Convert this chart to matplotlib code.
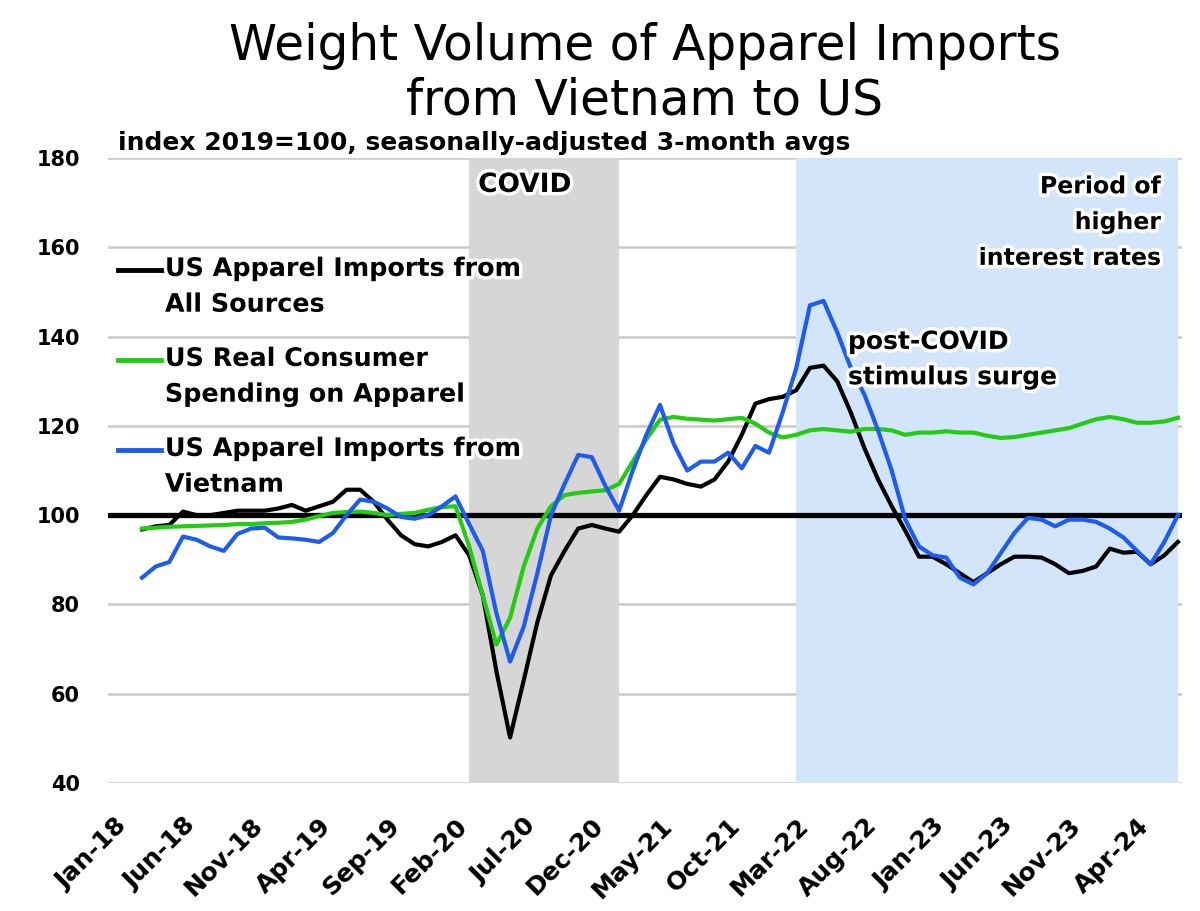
import matplotlib
matplotlib.use("Agg")
import matplotlib.pyplot as plt
import matplotlib.patheffects as pe
from matplotlib.lines import Line2D

# ---------------- data ----------------
month_labels_all = []
_mn = ["Jan", "Feb", "Mar", "Apr", "May", "Jun", "Jul", "Aug", "Sep", "Oct", "Nov", "Dec"]
for yy in range(18, 25):
    for mm in _mn:
        month_labels_all.append(f"{mm}-{yy}")
month_labels_all = month_labels_all[:79]          # Jan-18 .. Jul-24

tick_positions = list(range(0, 79, 5))
tick_labels = [month_labels_all[i] for i in tick_positions]

data_months = list(range(2, 79))                  # Mar-18 .. Jul-24

all_sources = [96.8, 97.5, 97.8, 100.8, 100, 100, 100.5, 101, 101, 101, 101.5, 102.3,
               101, 102, 103, 105.7, 105.7, 103, 99, 95.5, 93.5, 93, 94, 95.5, 91, 82,
               65, 50.2, 63, 76, 86.5, 92, 97, 97.8, 97, 96.3, 100, 104.5, 108.6, 108,
               107, 106.4, 108, 112, 118, 125, 126, 126.5, 128, 133, 133.5, 130, 123,
               115, 108, 102, 96.5, 90.7, 90.7, 89, 87, 85, 87, 89, 90.7, 90.7, 90.5,
               89, 87, 87.5, 88.5, 92.5, 91.6, 91.8, 89, 91, 94]

consumer_spending = [97, 97.2, 97.4, 97.5, 97.6, 97.7, 97.8, 98, 98, 98.2, 98.3, 98.5,
                     99, 99.8, 100.5, 100.7, 100.8, 100.5, 100, 100.3, 100.5, 101.2, 101.8,
                     102, 93, 82, 71, 77, 88.5, 97, 102, 104.5, 105, 105.3, 105.6, 107,
                     112, 117, 121.4, 122, 121.6, 121.4, 121.2, 121.5, 121.8, 120.5, 118.5,
                     117.4, 118, 119, 119.3, 119, 118.7, 119.3, 119.3, 119, 118, 118.5,
                     118.5, 118.8, 118.5, 118.5, 117.8, 117.3, 117.5, 118, 118.5, 119,
                     119.5, 120.5, 121.5, 122, 121.5, 120.7, 120.7, 121, 121.8]

vietnam = [86, 88.5, 89.5, 95.2, 94.5, 93, 92, 95.8, 97, 97.2, 95, 94.8, 94.5, 94, 96,
           100, 103.5, 103, 101.5, 99.6, 99.2, 100, 102, 104.2, 98, 92, 78, 67.2, 75, 87,
           100, 107, 113.5, 113, 106.5, 101, 110, 118, 124.7, 116, 110, 112, 112, 114,
           110.5, 115.5, 114, 123, 133, 147, 148, 141, 133, 127, 119, 110, 99, 93, 91,
           90.5, 86, 84.5, 87, 91.5, 96, 99.4, 99, 97.5, 99, 99, 98.5, 97, 95, 92, 89,
           94, 100]

baseline_value = 100
covid_period = (26, 37)          # Mar-20 .. Feb-21
rates_period = (50, 78)          # Mar-22 .. Jul-24

series_names = ["US Apparel Imports from\nAll Sources",
                "US Real Consumer\nSpending on Apparel",
                "US Apparel Imports from\nVietnam"]

y_ticks = [40, 60, 80, 100, 120, 140, 160, 180]

# ---------------- style ----------------
C_BLACK = "#000000"
C_GREEN = "#22cc11"
C_BLUE = "#1e5cf0"
C_COVID = "#d6d6d6"
C_RATES = "#d3e5fa"
C_GRID = "#c9c9c9"

plt.rcParams["font.family"] = ["DejaVu Sans"]

fig = plt.figure(figsize=(12, 9.11), dpi=100)
ax = fig.add_axes([0.09, 0.1405, 0.895, 0.686])

ax.set_axisbelow(True)
ax.grid(axis="y", color=C_GRID, lw=1.8)
ax.grid(axis="x", visible=False)

ax.axvspan(*covid_period, color=C_COVID, lw=0, zorder=1)
ax.axvspan(*rates_period, color=C_RATES, lw=0, zorder=1)

ax.axhline(baseline_value, color=C_BLACK, lw=3.8, zorder=2)
ax.plot(data_months, all_sources, color=C_BLACK, lw=3.0, zorder=3, solid_joinstyle="round")
ax.plot(data_months, consumer_spending, color=C_GREEN, lw=3.0, zorder=4, solid_joinstyle="round")
ax.plot(data_months, vietnam, color=C_BLUE, lw=3.0, zorder=5, solid_joinstyle="round")

ax.set_xlim(-0.5, 78.3)
ax.set_ylim(40, 180)
ax.set_yticks(y_ticks)
ax.set_xticks(tick_positions)
ax.set_xticklabels(tick_labels, rotation=45, ha="right", rotation_mode="anchor",
                   fontsize=18, fontweight="bold")
ax.tick_params(axis="x", length=0, pad=22)
ax.tick_params(axis="y", length=0, pad=20, labelsize=15)
for lab in ax.get_yticklabels():
    lab.set_fontweight("bold")
for s in ax.spines.values():
    s.set_visible(False)

# legend (manual, first line aligned with handle)
glow = [pe.withStroke(linewidth=5, foreground="white")]
leg_colors = [C_BLACK, C_GREEN, C_BLUE]
leg_y = [0.8208, 0.6768, 0.5328]
for name, col, yy in zip(series_names, leg_colors, leg_y):
    ax.add_line(Line2D([0.0093, 0.0503], [yy, yy], transform=ax.transAxes,
                       color=col, lw=3.5, zorder=6))
    ax.text(0.053, yy + 0.021, name, transform=ax.transAxes, va="top", ha="left",
            fontsize=18.3, fontweight="bold", linespacing=1.62, zorder=7,
            path_effects=glow)

ax.text(0.388, 0.957, "COVID", transform=ax.transAxes, ha="center", va="center",
        fontsize=19, fontweight="bold", zorder=7, path_effects=glow)
ax.text(0.9805, 0.974, "Period of\nhigher\ninterest rates", transform=ax.transAxes,
        ha="right", va="top", multialignment="right", fontsize=17, fontweight="bold",
        linespacing=1.62, zorder=7, path_effects=glow)
ax.text(0.689, 0.725, "post-COVID\nstimulus surge", transform=ax.transAxes,
        ha="left", va="top", fontsize=18, fontweight="bold", linespacing=1.6,
        zorder=7, path_effects=glow)

fig.text(0.5375, 0.920, "Weight Volume of Apparel Imports\nfrom Vietnam to US",
         ha="center", va="center", fontsize=35, linespacing=1.17)
fig.text(0.098, 0.843, "index 2019=100, seasonally-adjusted 3-month avgs",
         ha="left", va="center", fontsize=18, fontweight="bold")

fig.savefig("out.png", dpi=100)
